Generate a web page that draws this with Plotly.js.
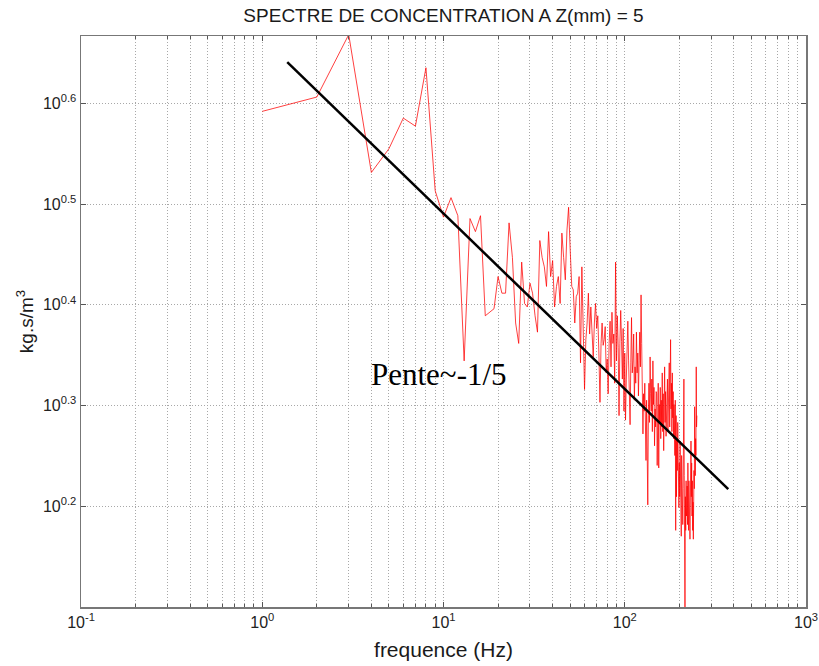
<!DOCTYPE html>
<html>
<head>
<meta charset="utf-8">
<script src="https://cdn.plot.ly/plotly-3.0.1.min.js"></script>
<style>html,body{margin:0;padding:0;background:#fff;}#chart{width:819px;height:666px;}</style>
</head>
<body>
<div id="chart"></div>
<script>
// Frequencies (Hz), 1 Hz step
var freq = [];
for (var i = 1; i <= 250; i++) freq.push(i);

// Concentration spectrum (kg.s/m^3)
var spectrum = [
  3.91, 4.04, 4.66, 3.40, 3.59, 3.85, 3.78, 4.32, 3.26, 3.07,
  3.21, 3.08, 2.21, 3.06, 2.97, 3.08, 2.45, 2.47, 2.49, 2.68,
  2.58, 2.58, 3.03, 2.80, 2.41, 2.30, 2.77, 2.52, 2.50, 2.64,
  2.58, 2.45, 2.36, 2.91, 2.80, 2.74, 2.62, 2.97, 2.68, 2.78,
  2.50, 2.62, 2.68, 2.52, 2.96, 2.80, 2.66, 2.98, 3.14, 2.85,
  2.62, 2.60, 2.41, 2.56, 2.58, 2.68, 2.20, 2.74, 2.40, 2.07,
  2.32, 2.41, 2.58, 2.35, 2.50, 2.30, 2.23, 2.41, 2.52, 2.38,
  2.45, 2.25, 2.01, 2.30, 2.41, 2.29, 2.32, 2.39, 2.15, 2.22,
  2.05, 2.30, 2.42, 2.18, 2.47, 2.30, 2.35, 2.10, 2.77, 2.21,
  2.45, 2.28, 1.95, 2.30, 2.48, 2.31, 2.12, 2.38, 1.97, 2.25,
  1.93, 2.12, 2.30, 2.42, 2.21, 2.05, 1.91, 2.20, 2.44, 2.15,
  2.21, 2.35, 2.02, 2.18, 2.10, 2.36, 2.15, 2.25, 2.04, 2.21,
  2.36, 2.18, 2.57, 2.30, 2.13, 1.87, 2.05, 1.97, 2.10, 1.90,
  1.76, 2.02, 1.85, 1.59, 1.95, 2.10, 1.92, 2.23, 2.05, 1.97,
  2.12, 1.88, 2.21, 2.00, 2.08, 1.82, 1.98, 1.90, 2.06, 2.05,
  1.74, 1.95, 2.10, 1.73, 2.00, 1.92, 2.08, 1.85, 2.02, 1.90,
  2.15, 1.88, 2.05, 1.80, 2.00, 2.18, 1.92, 2.06, 1.86, 2.02,
  1.95, 2.12, 1.88, 2.08, 1.96, 2.20, 1.90, 2.05, 2.32, 1.98,
  2.10, 1.88, 2.15, 1.94, 2.06, 1.85, 2.00, 1.90, 1.78, 2.02,
  1.50, 1.95, 1.62, 1.85, 1.72, 1.92, 1.65, 1.88, 1.58, 1.75,
  1.62, 1.84, 1.55, 1.70, 1.48, 1.78, 1.60, 1.68, 1.52, 1.65,
  1.80, 2.12, 1.70, 1.55, 1.20, 1.62, 1.50, 1.68, 1.55, 1.58,
  1.66, 1.52, 1.75, 1.60, 1.50, 1.68, 1.56, 1.62, 1.47, 1.58,
  1.70, 1.84, 1.62, 1.75, 1.55, 1.68, 1.50, 1.60, 1.47, 1.55,
  1.72, 1.65, 1.99, 1.80, 1.70, 1.85, 1.78, 2.18, 1.90, 1.95
];

// Slope line endpoints
var slopeX = [1.374, 372.4];
var slopeY = [4.375, 1.648];

// Axis ticks
var xMajor = [0.1, 1, 10, 100, 1000];
var xMajorText = ['10<sup>-1</sup>', '10<sup>0</sup>', '10<sup>1</sup>', '10<sup>2</sup>', '10<sup>3</sup>'];
var xMinorDigits = [2, 3, 4, 5, 6, 7, 8, 9];
var yExps = [0.2, 0.3, 0.4, 0.5, 0.6];
var yTickText = ['10<sup>0.2</sup>', '10<sup>0.3</sup>', '10<sup>0.4</sup>', '10<sup>0.5</sup>', '10<sup>0.6</sup>'];

var xMinor = [];
for (var d = 0; d < 4; d++) {
  xMinorDigits.forEach(function (k) { xMinor.push(k * xMajor[d]); });
}
var yMajor = yExps.map(function (e) { return Math.pow(10, e); });

var gridCol = '#a8a8a8';
var gridDash = '1px,2px';
var font = 'Liberation Sans, Arial, sans-serif';

var traces = [
  { x: freq, y: spectrum, type: 'scatter', mode: 'lines',
    line: { color: 'rgba(255,0,0,0.75)', width: 1 }, hoverinfo: 'skip' },
  { x: slopeX, y: slopeY, type: 'scatter', mode: 'lines',
    line: { color: '#000', width: 2.5 }, hoverinfo: 'skip' }
];

var layout = {
  width: 819, height: 666,
  margin: { l: 81, r: 13, t: 36, b: 59 },
  paper_bgcolor: '#fff', plot_bgcolor: '#fff',
  showlegend: false,
  font: { family: font, color: '#222', size: 14 },
  title: { text: 'SPECTRE DE CONCENTRATION A Z(mm) = 5',
    font: { family: font, size: 19, color: '#1a1a1a' },
    x: 0.5, xref: 'paper', y: 1 - 15 / 666, yref: 'container', yanchor: 'middle' },
  xaxis: {
    type: 'log', range: [-1, 3],
    tickmode: 'array', tickvals: xMajor, ticktext: xMajorText,
    ticks: 'inside', ticklen: 5, tickcolor: '#555', tickwidth: 1,
    showline: true, linecolor: '#777', linewidth: 1.5, mirror: 'allticks',
    showgrid: true, gridcolor: gridCol, griddash: gridDash, gridwidth: 1,
    zeroline: false,
    tickfont: { family: font, size: 16, color: '#222' },
    minor: { tickmode: 'array', tickvals: xMinor, ticks: 'inside', ticklen: 3,
      tickcolor: '#555', showgrid: true, gridcolor: gridCol, griddash: gridDash, gridwidth: 1 },
    title: { text: 'frequence (Hz)', font: { family: font, size: 21, color: '#1a1a1a' }, standoff: 12 }
  },
  yaxis: {
    type: 'log', range: [0.1, 0.667],
    tickmode: 'array', tickvals: yMajor, ticktext: yTickText,
    ticks: 'inside', ticklen: 5, tickcolor: '#555', tickwidth: 1,
    showline: true, linecolor: '#777', linewidth: 1.5, mirror: 'allticks',
    showgrid: true, gridcolor: gridCol, griddash: gridDash, gridwidth: 1,
    zeroline: false,
    tickfont: { family: font, size: 16, color: '#222' },
    title: { text: 'kg.s/m<sup>3</sup>', font: { family: font, size: 19, color: '#1a1a1a' }, standoff: 4 }
  },
  annotations: [
    { text: 'Pente~-1/5', xref: 'paper', yref: 'paper', x: 0.397, y: 0.408,
      xanchor: 'left', yanchor: 'middle', showarrow: false,
      font: { family: 'Liberation Serif, Times New Roman, serif', size: 31, color: '#000' } }
  ]
};

Plotly.newPlot('chart', traces, layout, { displayModeBar: false, staticPlot: true });
</script>
</body>
</html>
